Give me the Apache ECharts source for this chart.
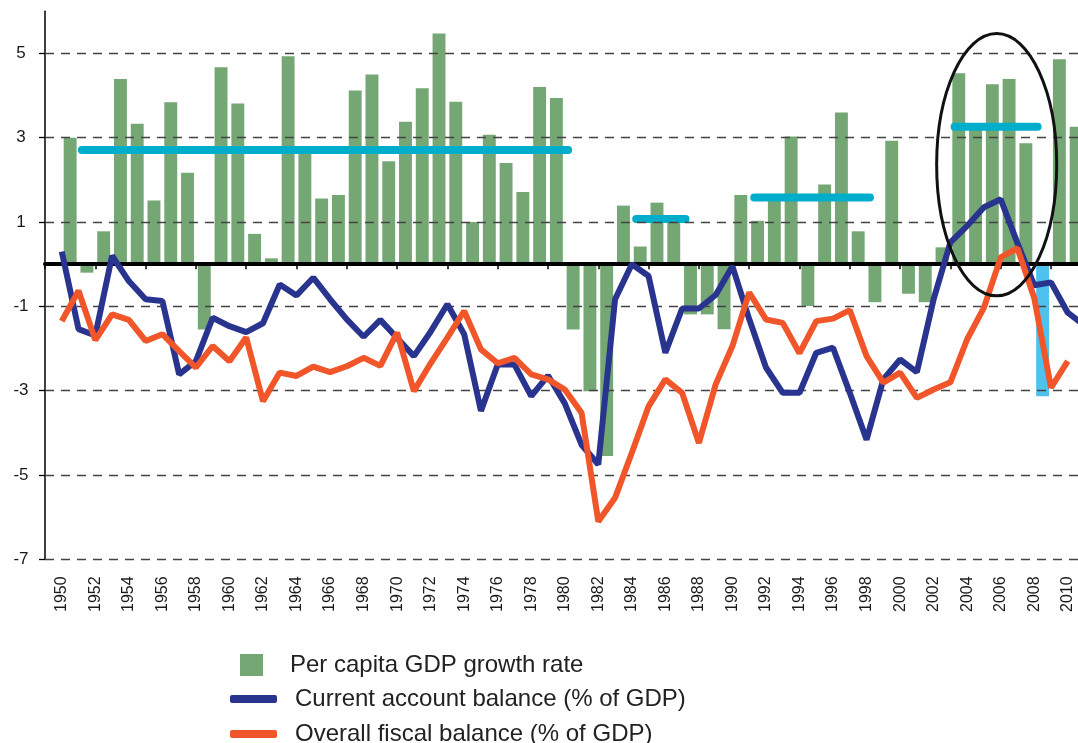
<!DOCTYPE html>
<html>
<head>
<meta charset="utf-8">
<script src="https://cdn.jsdelivr.net/npm/echarts@6/dist/echarts.min.js"></script>
<style>
html,body{margin:0;padding:0;background:#fff;}
#chart{width:1078px;height:743px;}
</style>
</head>
<body>
<div id="chart"></div>
<script>
// ---- data ----
const years = [1950,1951,1952,1953,1954,1955,1956,1957,1958,1959,1960,1961,1962,1963,1964,1965,1966,1967,1968,1969,1970,1971,1972,1973,1974,1975,1976,1977,1978,1979,1980,1981,1982,1983,1984,1985,1986,1987,1988,1989,1990,1991,1992,1993,1994,1995,1996,1997,1998,1999,2000,2001,2002,2003,2004,2005,2006,2007,2008,2009,2010,2011];

// Per capita GDP growth rate, 1950-2010
const gdpGrowth = [3.0,-0.2,0.78,4.39,3.33,1.51,3.84,2.17,-1.55,4.67,3.81,0.72,0.14,4.93,2.7,1.56,1.64,4.12,4.5,2.44,3.38,4.17,5.47,3.85,1.0,3.07,2.4,1.71,4.2,3.94,-1.55,-3.01,-4.55,1.39,0.42,1.46,1.05,-1.19,-1.19,-1.54,1.64,1.03,1.55,3.03,-0.99,1.89,3.6,0.78,-0.9,2.93,-0.7,-0.9,0.4,4.53,3.25,4.27,4.39,2.87,-3.13,4.86,3.26];

// Current account balance (% of GDP), 1950-2011
const currentAccount = [0.3,-1.54,-1.69,0.2,-0.4,-0.83,-0.87,-2.61,-2.3,-1.27,-1.47,-1.61,-1.4,-0.48,-0.74,-0.32,-0.83,-1.31,-1.72,-1.32,-1.75,-2.18,-1.6,-0.95,-1.66,-3.48,-2.38,-2.38,-3.13,-2.64,-3.3,-4.28,-4.75,-0.83,0.0,-0.28,-2.1,-1.05,-1.05,-0.73,-0.05,-1.3,-2.45,-3.05,-3.05,-2.1,-1.98,-3.05,-4.16,-2.73,-2.26,-2.56,-0.83,0.52,0.91,1.35,1.54,0.5,-0.5,-0.43,-1.15,-1.45];

// Overall fiscal balance (% of GDP), 1950-2010
const fiscalBalance = [-1.35,-0.63,-1.8,-1.19,-1.32,-1.82,-1.66,-2.06,-2.45,-1.94,-2.3,-1.74,-3.25,-2.57,-2.65,-2.43,-2.56,-2.42,-2.22,-2.41,-1.62,-3.01,-2.35,-1.74,-1.11,-2.02,-2.35,-2.22,-2.61,-2.73,-2.97,-3.52,-6.1,-5.54,-4.47,-3.37,-2.73,-3.05,-4.24,-2.85,-1.94,-0.67,-1.31,-1.39,-2.11,-1.35,-1.29,-1.09,-2.18,-2.81,-2.57,-3.17,-2.97,-2.8,-1.78,-1.03,0.16,0.38,-0.8,-2.93,-2.3];

// Period average growth annotations: [start, end, value]
const periodAverages = [
  [1951.2, 1980.2, 2.71],
  [1984.26, 1987.2, 1.07],
  [1991.3, 1998.2, 1.58],
  [2003.25, 2008.2, 3.26]
];
const crisisYear = 2008;

const yTicks = [-7,-5,-3,-1,1,3,5];
const yMin = -7, yMax = 6;

// circled period: [centerYear, centerValue, radiusYears, radiusValue]
const circled = [2005.76, 2.36, 3.58, 3.11];

// ---- build axes ----
const firstYear = years[0] - 1;              // padding band
const barCats = [firstYear].concat(years);    // 1949..2011 bands
const lastLabelYear = years[years.length-1] + 1;
const lineCats = barCats.concat([lastLabelYear]); // 1949..2012 points

const barData = barCats.map(y => {
  const i = y - years[0];
  if (i < 0 || i >= gdpGrowth.length) return null;
  const v = gdpGrowth[i];
  if (y === crisisYear) return {value: v, itemStyle: {color: '#4FC1EF'}};
  return v;
});
const caData = lineCats.map(y => {
  const i = y - years[0];
  return (i >= 0 && i < currentAccount.length) ? currentAccount[i] : null;
});
const fbData = lineCats.map(y => {
  const i = y - years[0];
  return (i >= 0 && i < fiscalBalance.length) ? fiscalBalance[i] : null;
});

const FONT = "'Liberation Sans', Arial, Helvetica, sans-serif";
const chart = echarts.init(document.getElementById('chart'), null, {renderer: 'canvas'});

const nameGDP = 'Per capita GDP growth rate';
const nameCA = 'Current account balance (% of GDP)';
const nameFB = 'Overall fiscal balance (% of GDP)';

const series = [
  {
    type: 'line', xAxisIndex: 2, yAxisIndex: 0, data: [], z: 1, silent: true,
    markLine: {
      silent: true, symbol: ['none','none'], label: {show: false},
      lineStyle: {type: [9,7], color: '#444', width: 1.3},
      data: yTicks.map(v => ({yAxis: v}))
    }
  },
  {
    name: nameGDP, type: 'bar', xAxisIndex: 0, yAxisIndex: 0, data: barData,
    barCategoryGap: '23%', itemStyle: {color: '#75A775'}, z: 2
  },
  {
    name: nameCA, type: 'line', xAxisIndex: 1, yAxisIndex: 0, data: caData,
    symbol: 'none', lineStyle: {color: '#29348F', width: 6}, itemStyle: {color: '#29348F'}, z: 5
  },
  {
    name: nameFB, type: 'line', xAxisIndex: 1, yAxisIndex: 0, data: fbData,
    symbol: 'none', lineStyle: {color: '#F0562A', width: 6}, itemStyle: {color: '#F0562A'}, z: 6
  }
];
periodAverages.forEach(p => {
  series.push({
    type: 'line', xAxisIndex: 2, yAxisIndex: 0, symbol: 'none', silent: true, z: 4,
    data: [[p[0], p[2]], [p[1], p[2]]],
    lineStyle: {color: '#00AECC', width: 8, cap: 'round'}
  });
});

const option = {
  animation: false,
  backgroundColor: '#fff',
  textStyle: {fontFamily: FONT},
  grid: {left: 45, right: -23.3, top: 11.2, bottom: 183.6, containLabel: false, outerBoundsMode: 'none'},
  legend: [
    {
      data: [nameGDP], orient: 'vertical', left: 240, top: 652, padding: 0, height: 60,
      itemWidth: 23, itemHeight: 22, icon: 'rect', selectedMode: false,
      textStyle: {fontSize: 24, color: '#222', fontFamily: FONT, lineHeight: 26, padding: [0,0,0,22]}
    },
    {
      data: [nameCA, nameFB], orient: 'vertical', left: 230, top: 686, padding: 0, height: 90, itemGap: 9,
      itemWidth: 47, itemHeight: 8, icon: 'roundRect', selectedMode: false,
      textStyle: {fontSize: 24, color: '#222', fontFamily: FONT, lineHeight: 26, padding: [0,0,0,13]}
    }
  ],
  xAxis: [
    {
      type: 'category', data: barCats, boundaryGap: true, position: 'bottom', z: 3,
      axisLine: {show: true, onZero: true, lineStyle: {color: '#000', width: 4}},
      axisTick: {show: true, length: 5, lineStyle: {color: '#000', width: 1.5}},
      axisLabel: {show: false}, splitLine: {show: false}
    },
    {
      type: 'category', data: lineCats, boundaryGap: false, position: 'bottom',
      axisLine: {show: false, onZero: false}, axisTick: {show: false}, splitLine: {show: false},
      axisLabel: {
        show: true, rotate: 90, margin: 17, fontSize: 16, color: '#1a1a1a', fontFamily: FONT,
        interval: (idx, val) => Number(val) % 2 === 0 && Number(val) < lastLabelYear
      }
    },
    {
      type: 'value', min: lineCats[0], max: lineCats[lineCats.length-1], show: false
    }
  ],
  yAxis: [{
    type: 'value', min: yMin, max: yMax, interval: 2,
    axisLine: {show: true, onZero: false, lineStyle: {color: '#000', width: 1.5}},
    axisTick: {show: true, length: 6, customValues: yTicks, lineStyle: {color: '#000', width: 1.3}},
    axisLabel: {show: true, customValues: yTicks, fontSize: 17, color: '#1a1a1a',
      fontFamily: FONT, align: 'center', margin: 24},
    splitLine: {show: false}
  }],
  series: series
};
chart.setOption(option);

// circled annotation positioned from data coordinates
const c = chart.convertToPixel({xAxisIndex: 2, yAxisIndex: 0}, [circled[0], circled[1]]);
const e = chart.convertToPixel({xAxisIndex: 2, yAxisIndex: 0}, [circled[0] + circled[2], circled[1] + circled[3]]);
chart.setOption({
  graphic: [{
    type: 'ellipse', z: 100, silent: true,
    shape: {cx: c[0], cy: c[1], rx: Math.abs(e[0] - c[0]), ry: Math.abs(c[1] - e[1])},
    style: {fill: 'none', stroke: '#111', lineWidth: 3}
  }]
});
</script>
</body>
</html>
